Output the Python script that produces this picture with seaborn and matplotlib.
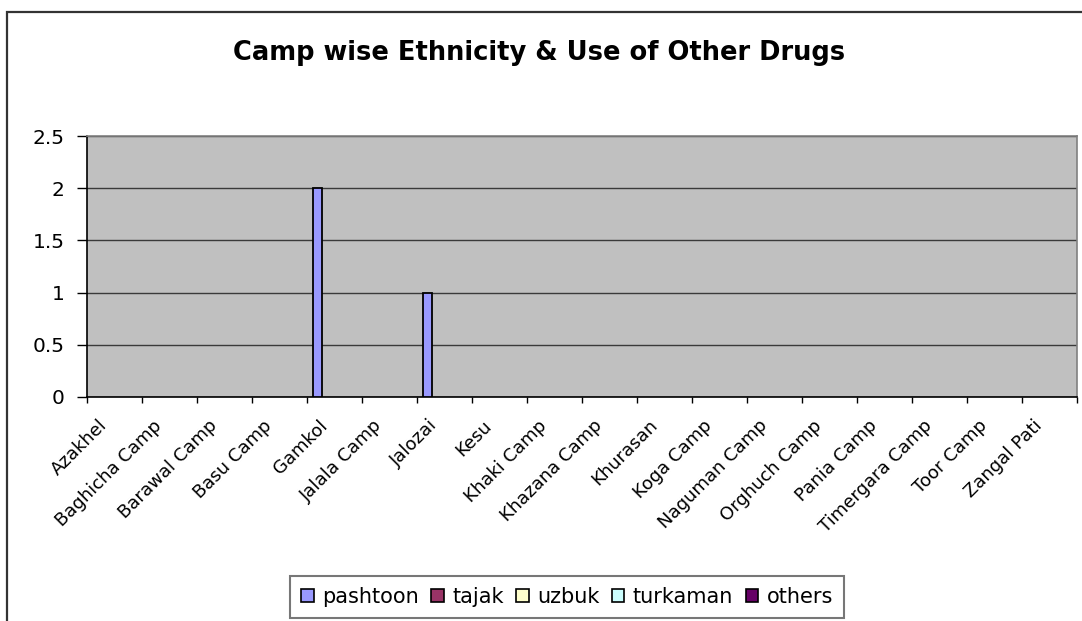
import numpy as np
import pandas as pd
import matplotlib
matplotlib.use("Agg")
import matplotlib.pyplot as plt
from matplotlib.patches import Rectangle
import seaborn as sns

camps = ["Azakhel", "Baghicha Camp", "Barawal Camp", "Basu Camp", "Gamkol",
         "Jalala Camp", "Jalozai", "Kesu", "Khaki Camp", "Khazana Camp",
         "Khurasan", "Koga Camp", "Naguman Camp", "Orghuch Camp", "Pania Camp",
         "Timergara Camp", "Toor Camp", "Zangal Pati"]
ethnicities = ["pashtoon", "tajak", "uzbuk", "turkaman", "others"]
pashtoon = [0, 0, 0, 0, 2, 0, 1, 0, 0, 0, 0, 0, 0, 0, 0, 0, 0, 0]
tajak = [0] * 18
uzbuk = [0] * 18
turkaman = [0] * 18
others = [0] * 18
colors = ["#9999FF", "#993366", "#FFFFCC", "#CCFFFF", "#660066"]
y_ticks = [0, 0.5, 1, 1.5, 2, 2.5]
y_tick_labels = ["0", "0.5", "1", "1.5", "2", "2.5"]

series = [pashtoon, tajak, uzbuk, turkaman, others]
df = pd.DataFrame({
    "camp": np.repeat([camps], len(ethnicities), axis=0).ravel(),
    "ethnicity": np.repeat(ethnicities, len(camps)),
    "count": np.concatenate(series),
})

sns.set_theme(style="white")
plt.rcParams["font.family"] = ["DejaVu Sans"]
plt.rcParams["text.color"] = "black"
plt.rcParams["xtick.color"] = "black"
plt.rcParams["ytick.color"] = "black"

W, H = 1082, 621
fig = plt.figure(figsize=(W / 100, H / 100), dpi=100)
fig.patch.set_facecolor("white")

# outer chart frame
fig.patches.append(Rectangle((7 / W, -0.1), 1.2, (H - 12) / H + 0.1,
                             transform=fig.transFigure, fill=False,
                             edgecolor="#333333", linewidth=1.6))

ax = fig.add_axes([87 / W, (H - 397) / H, (1077 - 87) / W, (397 - 136) / H])
ax.set_facecolor("#C0C0C0")

sns.barplot(data=df, x="camp", y="count", hue="ethnicity", order=camps,
            hue_order=ethnicities, palette=colors, width=0.77, gap=0,
            edgecolor="black", linewidth=1.3, saturation=1, ax=ax,
            legend=False, zorder=3)
for p in ax.patches:
    if p.get_height() == 0:
        p.set_visible(False)

ax.set_xlim(-0.5, len(camps) - 0.5)
ax.set_ylim(0, 2.5)
ax.set_yticks(y_ticks)
ax.set_yticklabels(y_tick_labels, fontsize=14.5)
ax.grid(axis="y", color="#3a3a3a", linewidth=1.0, zorder=1)
ax.set_axisbelow(True)

# tick marks sit between categories; labels hang slightly left of each centre
ax.set_xticks(np.arange(-0.5, len(camps), 1))
ax.set_xticklabels([])
ax.set_xticks(np.arange(len(camps)) - 0.3, minor=True)
ax.set_xticklabels(camps, minor=True, rotation=45, ha="right", va="top",
                   rotation_mode="anchor", fontsize=13)
ax.tick_params(axis="x", which="major", direction="out", length=4.5,
               width=1, color="black", bottom=True)
ax.tick_params(axis="x", which="minor", length=0, pad=14)
ax.tick_params(axis="y", direction="out", length=7, width=1,
               color="black", left=True, pad=9)
ax.set_xlabel("")
ax.set_ylabel("")

for side in ["left", "bottom"]:
    ax.spines[side].set_color("black")
    ax.spines[side].set_linewidth(1.2)
for side in ["top", "right"]:
    ax.spines[side].set_color("#808080")
    ax.spines[side].set_linewidth(1.2)

fig.text(539 / W, 1 - 53 / H, "Camp wise Ethnicity & Use of Other Drugs",
         ha="center", va="center", fontsize=18.5, fontweight="bold")

handles = [Rectangle((0, 0), 1, 1, facecolor=c, edgecolor="black", linewidth=1.2)
           for c in colors]
leg = fig.legend(handles, ethnicities, loc="center", ncol=5,
                 bbox_to_anchor=(567 / W, 1 - 597 / H), fontsize=15,
                 handlelength=0.6, handleheight=0.6, handletextpad=0.4,
                 columnspacing=0.6, borderpad=0.55, frameon=True, fancybox=False)
leg.get_frame().set_edgecolor("#555555")
leg.get_frame().set_linewidth(1.5)

fig.savefig("out.png", dpi=100)
